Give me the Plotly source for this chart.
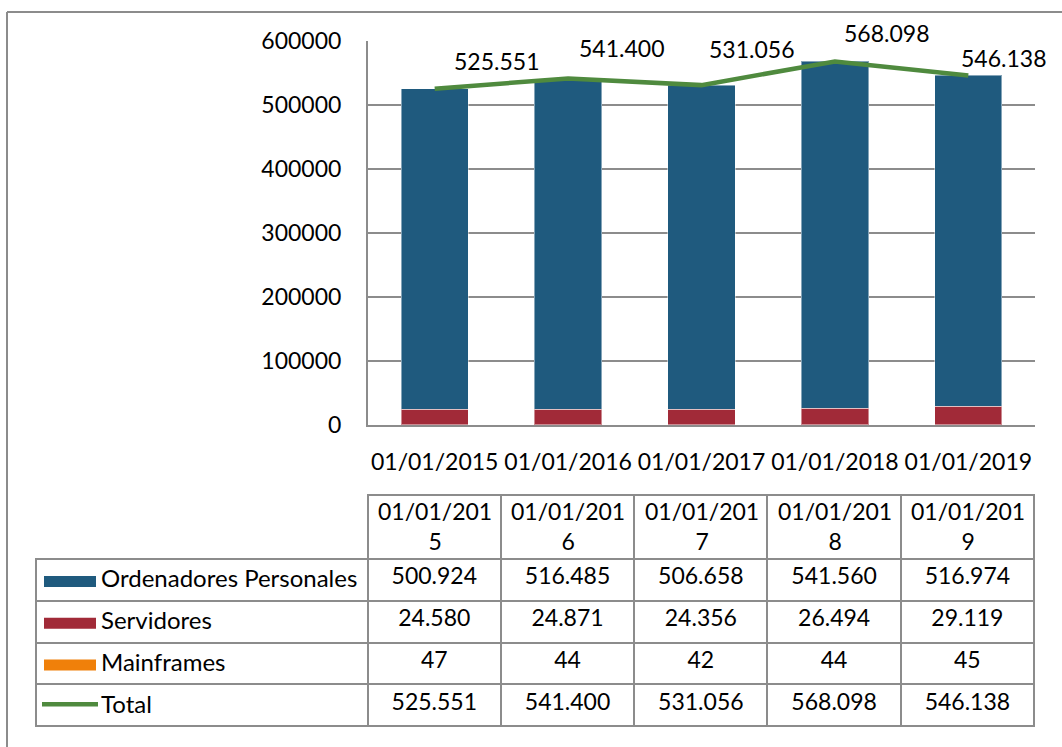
import plotly.graph_objects as go

# ---------------- data ----------------
categories = ["01/01/2015", "01/01/2016", "01/01/2017", "01/01/2018", "01/01/2019"]
ordenadores = [500924, 516485, 506658, 541560, 516974]
servidores = [24580, 24871, 24356, 26494, 29119]
mainframes = [47, 44, 42, 44, 45]
total = [525551, 541400, 531056, 568098, 546138]
series_names = ["Ordenadores Personales", "Servidores", "Mainframes", "Total"]
y_ticks = [0, 100000, 200000, 300000, 400000, 500000, 600000]

# ---------------- style / geometry ----------------
W, H = 1062, 747
FONT = "Lato"
FS = 23
BLUE = "#1F5A7E"
RED = "#A12A38"
ORANGE = "#F0800A"
GREEN = "#4F8A3E"
GRAY = "#8C8C8C"

PLOT_L, PLOT_R, PLOT_T, PLOT_B = 368, 1035, 41, 425
TAB_L, TAB_T, HEAD_H, ROW_H = 36, 495, 64, 41.75
label_dx = [62, 53, 50, 52, 35]
label_dy = [28, 31, 36, 28, 17]


def px(x):
    return x / W


def py(y):
    return 1 - y / H


def fmt(v):
    return f"{v:,}".replace(",", ".")


font = dict(family=FONT, size=FS, color="black")

fig = go.Figure()
fig.add_bar(x=categories, y=mainframes, name=series_names[2],
            marker=dict(color=ORANGE, line=dict(width=0)))
fig.add_bar(x=categories, y=servidores, name=series_names[1],
            marker=dict(color=RED, line=dict(color="rgba(255,255,255,0.45)", width=1)))
fig.add_bar(x=categories, y=ordenadores, name=series_names[0],
            marker=dict(color=BLUE, line=dict(color="rgba(255,255,255,0.45)", width=1)))
fig.add_scatter(x=categories, y=total, name=series_names[3], mode="lines",
                line=dict(color=GREEN, width=4.5))

# data labels of the total line
for c, t, dx, dy in zip(categories, total, label_dx, label_dy):
    fig.add_annotation(x=c, y=t, text=fmt(t), showarrow=False,
                       xshift=dx, yshift=dy, font=font)

# data table (grid + values)
cell_cols = [["", "", "", ""]] + [
    [fmt(o), fmt(s), fmt(m), fmt(t)]
    for o, s, m, t in zip(ordenadores, servidores, mainframes, total)
]
TAB_B = TAB_T + HEAD_H + 4 * ROW_H
fig.add_table(
    domain=dict(x=[px(TAB_L), px(PLOT_R)], y=[py(TAB_B + 8), py(TAB_T)]),
    columnwidth=[PLOT_L - TAB_L] + [(PLOT_R - PLOT_L) / 5] * 5,
    header=dict(values=[""] * 6, height=HEAD_H, align="center",
                fill=dict(color=["rgba(0,0,0,0)"] + ["white"] * 5),
                line=dict(color=["rgba(0,0,0,0)"] + [GRAY] * 5, width=2),
                font=font),
    cells=dict(values=cell_cols, height=ROW_H, align="center",
               fill=dict(color="white"), line=dict(color=GRAY, width=2),
               font=font),
)

# header texts (wrapped like the original), placed on the category axis
for c in categories:
    fig.add_annotation(x=c, xref="x", y=py(TAB_T + HEAD_H / 2 - 1), yref="paper",
                       text=c[:-1] + "<br>" + c[-1], showarrow=False,
                       align="center", xanchor="center", yanchor="middle",
                       font=font)

# legend keys in the first table column
swatch_colors = [BLUE, RED, ORANGE]
shapes = []
for i, name in enumerate(series_names):
    yc = TAB_T + HEAD_H + ROW_H * (i + 0.5)
    if i < 3:
        shapes.append(dict(type="rect", xref="paper", yref="paper",
                           x0=px(44), x1=px(96), y0=py(yc - 4), y1=py(yc + 7),
                           fillcolor=swatch_colors[i], line=dict(width=0)))
    else:
        shapes.append(dict(type="line", xref="paper", yref="paper",
                           x0=px(42), x1=px(98), y0=py(yc - 1), y1=py(yc - 1),
                           line=dict(color=GREEN, width=4.5)))
    fig.add_annotation(xref="paper", yref="paper", x=px(99), y=py(yc - 2),
                       xanchor="left", yanchor="middle", text=name,
                       showarrow=False, font=dict(family=FONT, size=FS + 1, color="black"))

# outer chart border (cut at right and bottom)
shapes.append(dict(type="line", xref="paper", yref="paper", x0=px(7), x1=px(7),
                   y0=0, y1=py(12), line=dict(color=GRAY, width=2)))
shapes.append(dict(type="line", xref="paper", yref="paper", x0=px(7), x1=1,
                   y0=py(12), y1=py(12), line=dict(color=GRAY, width=2)))

fig.update_layout(
    width=W, height=H, margin=dict(l=0, r=0, t=0, b=0, autoexpand=False),
    paper_bgcolor="white", plot_bgcolor="white",
    barmode="stack", bargap=0.495, showlegend=False,
    font=font, shapes=shapes,
    xaxis=dict(domain=[px(PLOT_L), px(PLOT_R)], type="category",
               range=[-0.5, len(categories) - 0.5], autorange=False,
               showline=True, linecolor=GRAY, linewidth=2, showgrid=False,
               ticks="", ticklabelstandoff=15, tickfont=font, automargin=False),
    yaxis=dict(domain=[py(PLOT_B), py(PLOT_T)], range=[0, 600000], autorange=False,
               tickvals=y_ticks, tickformat="d", showline=True,
               linecolor=GRAY, linewidth=2, gridcolor=GRAY, gridwidth=2,
               zeroline=False, ticks="", ticklabelstandoff=20, tickfont=font,
               automargin=False),
)

fig.write_html("out.html", config={"displayModeBar": False},
               post_script="document.body.style.margin='0';")
